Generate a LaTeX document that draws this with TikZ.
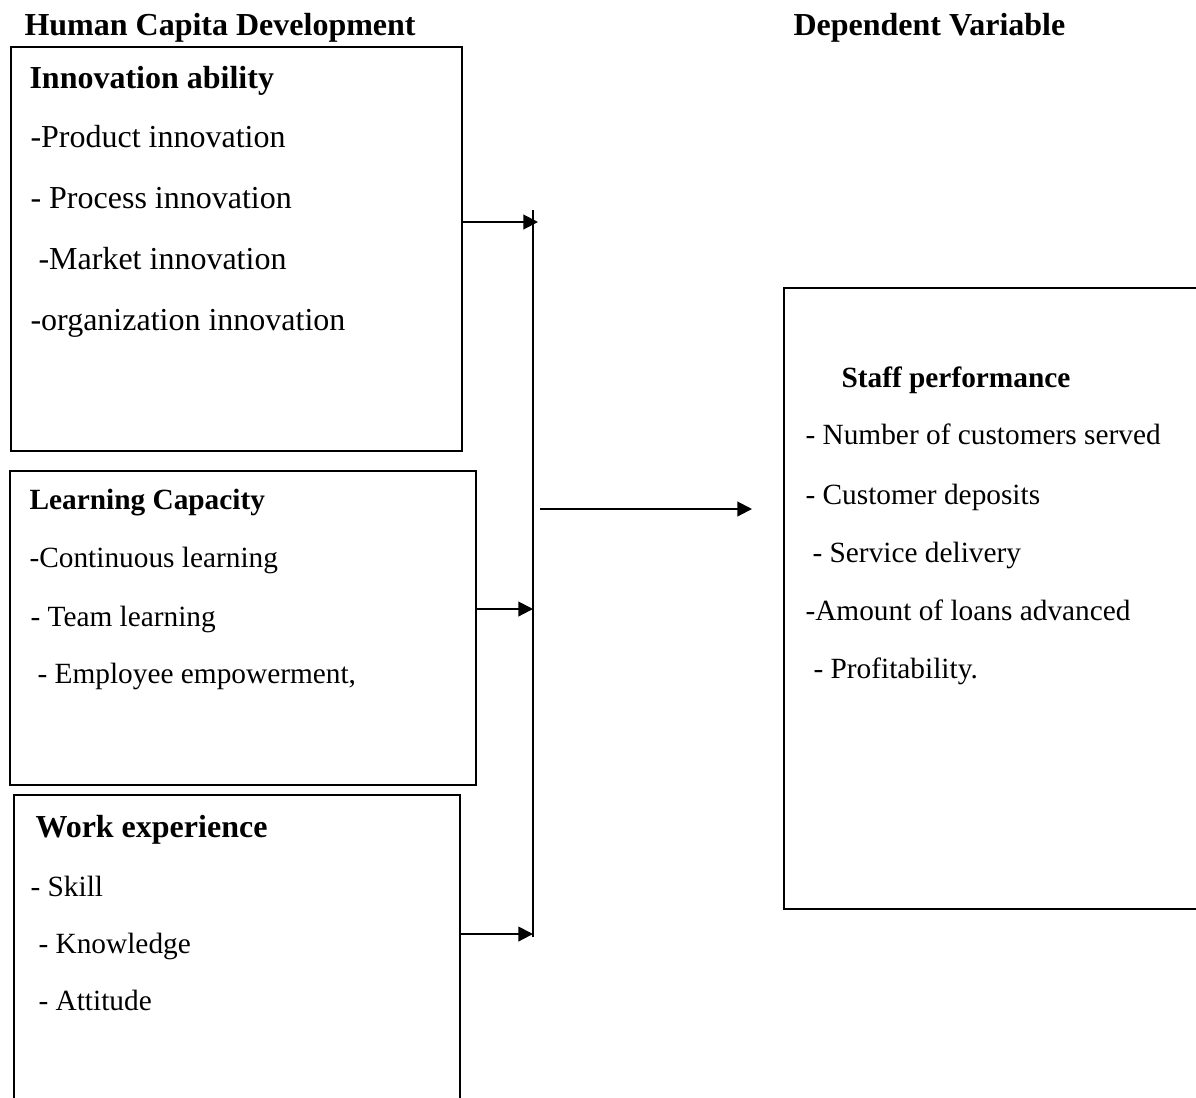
\documentclass[tikz,border=0pt]{standalone}
\usepackage{fontspec}
\setmainfont{Liberation Serif}
\usetikzlibrary{arrows.meta}

\begin{document}
\begin{tikzpicture}[x=0.375pt, y=-0.375pt]
    \tikzset{box/.style = {shape=rectangle, draw, line width=0.75pt, anchor=north west, inner sep=0pt}}
    \tikzset{head/.style = {anchor=base west, inner sep=0pt, font=\fontsize{12}{14}\selectfont\bfseries}}
    \tikzset{shead/.style = {anchor=base west, inner sep=0pt, font=\fontsize{11}{13}\selectfont\bfseries}}
    \tikzset{item/.style = {anchor=base west, inner sep=0pt, font=\fontsize{12}{14}\selectfont}}
    \tikzset{sitem/.style = {anchor=base west, inner sep=0pt, font=\fontsize{11}{13}\selectfont}}
    \tikzset{arr/.style = {draw, line width=0.75pt, -{Triangle[length=5.5pt, width=5.5pt]}}}

    \useasboundingbox (0,0) rectangle (1196,1097);

    % titles
    \node[head] (ttl1) at (24,35) {Human Capita Development};
    \node[head] (ttl2) at (793,35) {Dependent Variable};

    % boxes
    \node[box, minimum width=451*0.375pt, minimum height=404*0.375pt] (inno) at (10,46) {};
    \node[box, minimum width=466*0.375pt, minimum height=314*0.375pt] (learn) at (9,470) {};
    \node[box, minimum width=446*0.375pt, minimum height=320*0.375pt] (work) at (13,794) {};
    \node[box, minimum width=430*0.375pt, minimum height=621*0.375pt] (perf) at (783,287) {};

    % innovation ability
    \node[head] (i0) at (29,88) {Innovation ability};
    \node[item] (i1) at (30,147) {-Product innovation};
    \node[item] (i2) at (30,208) {- Process innovation};
    \node[item] (i3) at (38,269) {-Market innovation};
    \node[item] (i4) at (30,330) {-organization innovation};

    % learning capacity
    \node[shead] (l0) at (29,509) {Learning Capacity};
    \node[sitem] (l1) at (29,567) {-Continuous learning};
    \node[sitem] (l2) at (30,626) {- Team learning};
    \node[sitem] (l3) at (37,683) {- Employee empowerment,};

    % work experience
    \node[head] (w0) at (35,837) {Work experience};
    \node[sitem] (w1) at (30,896) {- Skill};
    \node[sitem] (w2) at (38,953) {- Knowledge};
    \node[sitem] (w3) at (38,1010) {- Attitude};

    % staff performance
    \node[shead] (p0) at (841,387) {Staff performance};
    \node[sitem] (p1) at (805,444) {- Number of customers served};
    \node[sitem] (p2) at (805,504) {- Customer deposits};
    \node[sitem] (p3) at (812,562) {- Service delivery};
    \node[sitem] (p4) at (805,620) {-Amount of loans advanced};
    \node[sitem] (p5) at (813,678) {- Profitability.};

    % connectors
    \coordinate (bustop) at (533,210);
    \coordinate (busbot) at (533,937);
    \coordinate (out) at (540,509);
    \coordinate (in) at (752,509);
    \draw[line width=0.75pt] (bustop) -- (busbot);
    \draw[arr] (inno.east |- 0,222) -- ([xshift=5*0.375pt]bustop |- 0,222);
    \draw[arr] (learn.east |- 0,609) -- (bustop |- 0,609);
    \draw[arr] (work.east |- 0,934) -- (bustop |- 0,934);
    \draw[arr] (out) -- (in);
\end{tikzpicture}
\end{document}
